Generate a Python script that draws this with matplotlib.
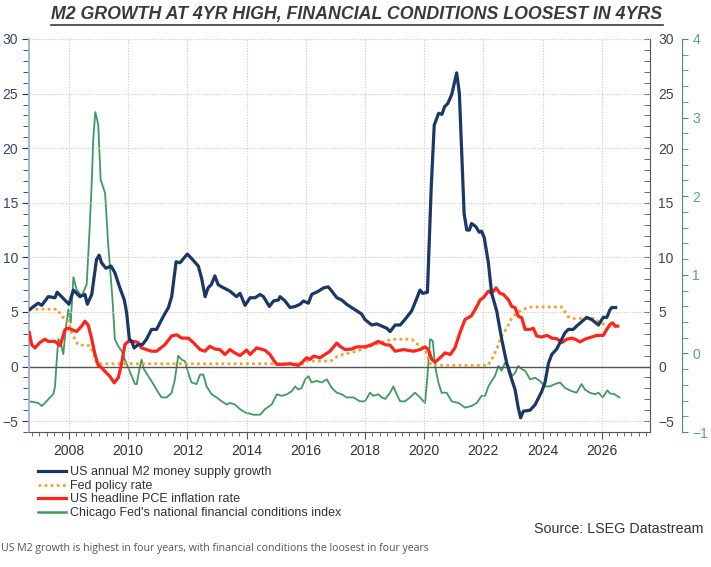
import matplotlib
matplotlib.use("Agg")
import matplotlib.pyplot as plt
from matplotlib.lines import Line2D
from matplotlib.ticker import MultipleLocator

plt.rcParams['font.family'] = ['Liberation Sans Narrow', 'Liberation Sans', 'DejaVu Sans']

# US annual M2 money supply growth (%), decimal years
m2_x = [2006.66, 2006.96, 2007.08, 2007.3, 2007.53, 2007.6, 2007.75, 2008.0, 2008.15, 2008.37,
        2008.54, 2008.62, 2008.77, 2008.82, 2008.93, 2009.02, 2009.1, 2009.25, 2009.42, 2009.55,
        2009.72, 2009.87, 2009.95, 2010.04, 2010.12, 2010.2, 2010.34, 2010.48, 2010.62, 2010.79,
        2010.96, 2011.19, 2011.36, 2011.47, 2011.62, 2011.75, 2012.0, 2012.14, 2012.37, 2012.48,
        2012.6, 2012.7, 2012.81, 2012.93, 2013.04, 2013.16, 2013.44, 2013.66, 2013.78, 2013.95,
        2014.12, 2014.29, 2014.46, 2014.57, 2014.77, 2014.91, 2015.08, 2015.13, 2015.3, 2015.47,
        2015.64, 2015.81, 2015.92, 2016.09, 2016.2, 2016.43, 2016.6, 2016.76, 2016.88, 2017.05,
        2017.21, 2017.38, 2017.72, 2017.89, 2018.0, 2018.23, 2018.4, 2018.57, 2018.74, 2018.85,
        2019.02, 2019.19, 2019.35, 2019.58, 2019.73, 2019.86, 2019.95, 2020.11, 2020.15, 2020.24,
        2020.34, 2020.49, 2020.6, 2020.69, 2020.8, 2020.93, 2021.1, 2021.19, 2021.27, 2021.35,
        2021.44, 2021.53, 2021.6, 2021.75, 2021.86, 2021.94, 2022.03, 2022.17, 2022.28, 2022.45,
        2022.62, 2022.79, 2022.96, 2023.07, 2023.18, 2023.26, 2023.35, 2023.58, 2023.75, 2023.97,
        2024.08, 2024.2, 2024.31, 2024.48, 2024.61, 2024.76, 2024.87, 2025.04, 2025.15, 2025.32,
        2025.49, 2025.66, 2025.89, 2026.05, 2026.17, 2026.28, 2026.34, 2026.47]
m2_y = [5.2, 5.8, 5.6, 6.4, 6.3, 6.8, 6.4, 5.7, 7.0, 6.4,
        6.6, 5.7, 6.6, 7.6, 9.8, 10.2, 9.5, 9.0, 9.2, 8.6,
        7.2, 6.1, 4.9, 2.5, 2.3, 1.7, 2.0, 2.0, 2.5, 3.4,
        3.4, 4.6, 5.4, 6.4, 9.6, 9.5, 10.3, 9.9, 9.2, 8.1,
        6.4, 7.2, 7.5, 8.3, 7.5, 7.3, 6.9, 6.4, 6.7, 5.6,
        6.3, 6.3, 6.6, 6.4, 5.5, 6.0, 6.1, 6.4, 6.0, 5.4,
        5.5, 5.7, 6.0, 5.8, 6.6, 6.9, 7.2, 7.3, 6.9, 6.3,
        6.1, 5.7, 5.1, 4.8, 4.3, 3.8, 3.9, 3.7, 3.5, 3.2,
        3.8, 3.8, 4.3, 5.1, 6.1, 7.0, 6.7, 6.8, 9.8, 16.5,
        22.1, 23.2, 23.1, 23.8, 24.1, 24.9, 26.9, 25.0, 19.5, 14.0,
        12.5, 12.5, 13.1, 12.8, 12.3, 12.4, 11.8, 9.5, 6.7, 5.1,
        2.5, 0.3, -1.2, -2.1, -3.8, -4.7, -4.1, -4.0, -3.5, -2.3,
        -1.5, 0.3, 1.1, 1.6, 2.3, 3.1, 3.4, 3.4, 3.7, 4.1,
        4.5, 4.3, 3.8, 4.5, 4.5, 5.2, 5.4, 5.4]

# Fed policy rate (%)
fed_x = [2006.66, 2007.6, 2007.75, 2007.98, 2008.09, 2008.2, 2008.3, 2008.7, 2008.82, 2008.93,
         2009.0, 2015.9, 2015.98, 2016.85, 2017.05, 2017.25, 2017.5, 2017.83, 2018.17, 2018.5,
         2018.85, 2019.02, 2019.58, 2019.86, 2020.03, 2020.2, 2020.25, 2022.15, 2022.28, 2022.45,
         2022.62, 2022.79, 2022.96, 2023.18, 2023.52, 2024.65, 2024.87, 2025.0, 2025.72, 2025.9,
         2026.05, 2026.2, 2026.5]
fed_y = [5.25, 5.25, 4.6, 4.2, 3.1, 2.5, 2.0, 1.9, 1.3, 0.3,
         0.25, 0.25, 0.5, 0.5, 0.9, 1.1, 1.25, 1.5, 1.85, 2.15,
         2.45, 2.5, 2.5, 1.85, 1.55, 0.3, 0.1, 0.1, 0.6, 1.6,
         2.8, 3.5, 4.45, 5.0, 5.45, 5.45, 4.55, 4.4, 4.4, 4.1,
         3.9, 3.7, 3.7]

# US headline PCE inflation rate (%)
pce_x = [2006.66, 2006.74, 2006.85, 2007.02, 2007.19, 2007.3, 2007.53, 2007.7, 2007.87, 2007.98,
         2008.26, 2008.43, 2008.54, 2008.65, 2008.77, 2008.88, 2008.99, 2009.1, 2009.27, 2009.38,
         2009.53, 2009.67, 2009.78, 2009.89, 2010.0, 2010.17, 2010.34, 2010.45, 2010.79, 2010.96,
         2011.24, 2011.47, 2011.64, 2011.81, 2012.03, 2012.2, 2012.43, 2012.59, 2012.76, 2012.93,
         2013.1, 2013.27, 2013.44, 2013.6, 2013.78, 2014.0, 2014.12, 2014.34, 2014.62, 2014.79,
         2014.91, 2015.02, 2015.24, 2015.47, 2015.75, 2015.86, 2016.03, 2016.14, 2016.26, 2016.48,
         2016.65, 2016.82, 2017.05, 2017.16, 2017.33, 2017.55, 2017.72, 2018.0, 2018.23, 2018.45,
         2018.68, 2018.85, 2019.02, 2019.3, 2019.64, 2019.86, 2020.03, 2020.14, 2020.26, 2020.37,
         2020.54, 2020.71, 2020.88, 2021.04, 2021.21, 2021.38, 2021.6, 2021.78, 2021.89, 2022.0,
         2022.17, 2022.28, 2022.43, 2022.56, 2022.68, 2022.85, 2022.96, 2023.07, 2023.18, 2023.3,
         2023.41, 2023.58, 2023.69, 2023.8, 2023.97, 2024.16, 2024.31, 2024.48, 2024.65, 2024.82,
         2024.98, 2025.1, 2025.27, 2025.43, 2025.66, 2025.83, 2026.05, 2026.17, 2026.28, 2026.37,
         2026.45, 2026.54]
pce_y = [3.1, 2.0, 1.7, 2.2, 2.5, 2.3, 2.3, 1.9, 3.4, 3.5,
         3.2, 3.7, 4.15, 3.8, 2.5, 1.1, 0.1, -0.1, -0.6, -0.9,
         -1.5, -1.0, 0.3, 2.0, 2.3, 2.3, 2.2, 1.7, 1.4, 1.4,
         2.0, 2.8, 2.9, 2.6, 2.6, 2.2, 1.55, 1.4, 1.85, 1.6,
         1.55, 1.1, 1.55, 1.25, 1.0, 1.5, 1.1, 1.7, 1.5, 1.1,
         0.6, 0.2, 0.2, 0.25, 0.1, 0.35, 0.8, 0.65, 0.95, 0.8,
         1.1, 1.4, 2.15, 1.85, 1.55, 1.6, 1.8, 1.8, 2.0, 2.3,
         2.0, 1.95, 1.4, 1.55, 1.4, 1.55, 1.8, 1.55, 0.65, 0.4,
         0.8, 1.25, 1.1, 1.7, 3.1, 4.3, 4.65, 5.5, 6.1, 6.3,
         6.9, 6.7, 7.2, 6.7, 6.6, 6.1, 5.5, 5.4, 4.6, 4.45,
         3.4, 3.4, 3.5, 2.8, 2.7, 2.85, 2.6, 2.55, 2.2, 2.5,
         2.6, 2.5, 2.25, 2.5, 2.7, 2.85, 2.85, 3.4, 3.85, 4.0,
         3.7, 3.7]

# Chicago Fed's national financial conditions index (right axis)
nfci_x = [2006.66, 2006.8, 2006.96, 2007.08, 2007.19, 2007.36, 2007.47, 2007.53, 2007.58, 2007.64,
          2007.72, 2007.81, 2007.89, 2007.98, 2008.06, 2008.15, 2008.26, 2008.43, 2008.6, 2008.69,
          2008.77, 2008.82, 2008.89, 2008.99, 2009.07, 2009.22, 2009.33, 2009.47, 2009.55, 2009.67,
          2009.78, 2009.89, 2010.0, 2010.12, 2010.23, 2010.29, 2010.38, 2010.45, 2010.53, 2010.68,
          2010.85, 2011.02, 2011.13, 2011.3, 2011.47, 2011.58, 2011.69, 2011.81, 2011.92, 2012.03,
          2012.14, 2012.31, 2012.43, 2012.54, 2012.65, 2012.82, 2012.99, 2013.16, 2013.33, 2013.44,
          2013.6, 2013.78, 2013.95, 2014.23, 2014.46, 2014.62, 2014.85, 2015.02, 2015.19, 2015.36,
          2015.53, 2015.64, 2015.75, 2015.86, 2015.98, 2016.09, 2016.2, 2016.37, 2016.54, 2016.71,
          2016.88, 2017.05, 2017.21, 2017.38, 2017.61, 2017.83, 2018.0, 2018.17, 2018.28, 2018.45,
          2018.57, 2018.68, 2018.85, 2018.96, 2019.07, 2019.19, 2019.35, 2019.52, 2019.69, 2019.86,
          2020.03, 2020.11, 2020.2, 2020.29, 2020.37, 2020.48, 2020.59, 2020.76, 2020.93, 2021.16,
          2021.38, 2021.6, 2021.78, 2021.94, 2022.06, 2022.17, 2022.28, 2022.39, 2022.51, 2022.62,
          2022.73, 2022.85, 2022.96, 2023.07, 2023.18, 2023.3, 2023.41, 2023.58, 2023.75, 2023.91,
          2024.08, 2024.25, 2024.42, 2024.59, 2024.76, 2024.98, 2025.15, 2025.32, 2025.43, 2025.6,
          2025.77, 2025.89, 2026.03, 2026.19, 2026.28, 2026.43, 2026.6]
nfci_y = [-0.61, -0.62, -0.63, -0.67, -0.63, -0.56, -0.52, -0.42, -0.12, 0.18,
          0.14, -0.01, 0.31, 0.56, 0.39, 0.97, 0.81, 0.73, 0.88, 1.53,
          2.17, 2.72, 3.07, 2.91, 2.21, 2.04, 1.36, 0.69, 0.18, 0.09,
          0.03, -0.08, -0.18, -0.29, -0.39, -0.39, -0.2, -0.08, -0.2, -0.29,
          -0.39, -0.5, -0.56, -0.56, -0.5, -0.33, -0.03, -0.08, -0.1, -0.25,
          -0.37, -0.39, -0.27, -0.27, -0.42, -0.52, -0.56, -0.61, -0.65, -0.63,
          -0.65, -0.71, -0.75, -0.78, -0.78, -0.71, -0.65, -0.52, -0.54, -0.52,
          -0.48, -0.42, -0.46, -0.44, -0.33, -0.29, -0.37, -0.35, -0.37, -0.33,
          -0.44, -0.5, -0.52, -0.56, -0.56, -0.61, -0.61, -0.5, -0.54, -0.52,
          -0.56, -0.58, -0.5, -0.42, -0.52, -0.61, -0.61, -0.56, -0.5, -0.56,
          -0.63, -0.29, 0.18, 0.16, -0.16, -0.37, -0.5, -0.5, -0.61, -0.63,
          -0.69, -0.67, -0.63, -0.54, -0.54, -0.42, -0.35, -0.29, -0.16, -0.22,
          -0.12, -0.16, -0.29, -0.25, -0.16, -0.2, -0.22, -0.33, -0.31, -0.35,
          -0.42, -0.42, -0.39, -0.37, -0.44, -0.48, -0.5, -0.39, -0.46, -0.5,
          -0.52, -0.5, -0.56, -0.47, -0.51, -0.52, -0.56]

year_ticks = [2008, 2010, 2012, 2014, 2016, 2018, 2020, 2022, 2024, 2026]
left_ticks = [-5, 0, 5, 10, 15, 20, 25, 30]
nfci_ticks = [-1, 0, 1, 2, 3, 4]

navy = '#1b3766'
red = '#ff2419'
orange = '#f5a02a'
green = '#3f9a60'
grey = '#555555'

fig = plt.figure(figsize=(7.11, 5.67), dpi=100)
ax = fig.add_axes([29 / 711, 1 - 432 / 567, 621 / 711, 393 / 567])

ax.plot(m2_x, m2_y, color=navy, lw=2.3, zorder=5)
ax.plot(fed_x, fed_y, color=orange, lw=2.0, ls=(0, (1, 1.2)), zorder=4)
ax.plot(pce_x, pce_y, color=red, lw=2.3, zorder=4)
ax.axhline(0, color=grey, lw=1.0, zorder=2)

ax.set_xlim(2006.65, 2027.63)
ax.set_ylim(-6, 30)
ax.set_xticks(year_ticks)
ax.xaxis.set_minor_locator(MultipleLocator(0.25))
ax.set_yticks(left_ticks)
ax.yaxis.set_minor_locator(MultipleLocator(1))
ax.grid(True, color='#c8c8c8', ls=(0, (1, 1.5)), lw=0.8)
ax.set_axisbelow(True)

for s in ['top', 'right']:
    ax.spines[s].set_visible(False)
ax.spines['left'].set_color('#a9b8d0')
ax.spines['left'].set_linewidth(1.5)
ax.spines['bottom'].set_color(grey)
ax.tick_params(axis='y', which='both', colors=navy, labelcolor='#34466b', labelsize=10, length=4, pad=3)
ax.tick_params(axis='y', which='major', length=5)
ax.tick_params(axis='x', which='both', colors=grey, labelcolor='#333333', labelsize=10, length=3)
ax.tick_params(axis='x', which='major', length=5)

# same scale on the right
ax2 = ax.twinx()
ax2.set_ylim(-6, 30)
ax2.set_yticks(left_ticks)
ax2.yaxis.set_minor_locator(MultipleLocator(1))
for s in ['top', 'left', 'bottom']:
    ax2.spines[s].set_visible(False)
ax2.spines['right'].set_color(grey)
ax2.tick_params(axis='y', which='both', direction='in', colors=grey, labelcolor='#444444',
                labelsize=10, length=4, pad=6)

# NFCI on its own axis
ax3 = ax.twinx()
ax3.plot(nfci_x, nfci_y, color=green, lw=1.3, zorder=3)
ax3.set_ylim(-1, 4)
ax3.set_yticks(nfci_ticks)
ax3.yaxis.set_minor_locator(MultipleLocator(0.2))
ax3.spines['right'].set_position(('axes', 1 + 32 / 621))
for s in ['top', 'left', 'bottom']:
    ax3.spines[s].set_visible(False)
ax3.spines['right'].set_color(green)
ax3.tick_params(axis='y', which='both', colors=green, labelcolor='#5aa86f', labelsize=10, length=4)
ax3.set_zorder(ax.get_zorder() - 1)
ax.set_zorder(ax3.get_zorder() + 2)
ax.patch.set_visible(False)

title = fig.text(357 / 711, 1 - 15 / 567, 'M2 GROWTH AT 4YR HIGH, FINANCIAL CONDITIONS LOOSEST IN 4YRS',
                 ha='center', va='center', fontsize=12.8, fontweight='bold', fontstyle='italic',
                 color='#3a3a3a')

handles = [Line2D([], [], color=navy, lw=2.3),
           Line2D([], [], color=orange, lw=2.0, ls=(0, (1, 1.2))),
           Line2D([], [], color=red, lw=2.3),
           Line2D([], [], color=green, lw=1.8)]
labels = ['US annual M2 money supply growth', 'Fed policy rate',
          'US headline PCE inflation rate', "Chicago Fed's national financial conditions index"]
fig.legend(handles, labels, loc='upper left', bbox_to_anchor=(32 / 711, 1 - 460 / 567),
           frameon=False, fontsize=9, handlelength=2.2, handletextpad=0.35,
           labelspacing=0.13, borderpad=0, labelcolor='#333333')

fig.text(703 / 711, 1 - 529 / 567, 'Source: LSEG Datastream', ha='right', va='center',
         fontsize=10.3, color='#333333')
fig.text(1 / 711, 1 - 549 / 567,
         'US M2 growth is highest in four years, with financial conditions the loosest in four years',
         ha='left', va='center', fontsize=7.6, color='#555555', family=['Open Sans', 'DejaVu Sans'])

# underline the title
fig.canvas.draw()
bb = title.get_window_extent().transformed(fig.transFigure.inverted())
fig.add_artist(Line2D([bb.x0, bb.x1], [bb.y0 - 0.002, bb.y0 - 0.002], transform=fig.transFigure,
                      color='#3a3a3a', lw=1.2))

fig.savefig('out.png', dpi=100)
